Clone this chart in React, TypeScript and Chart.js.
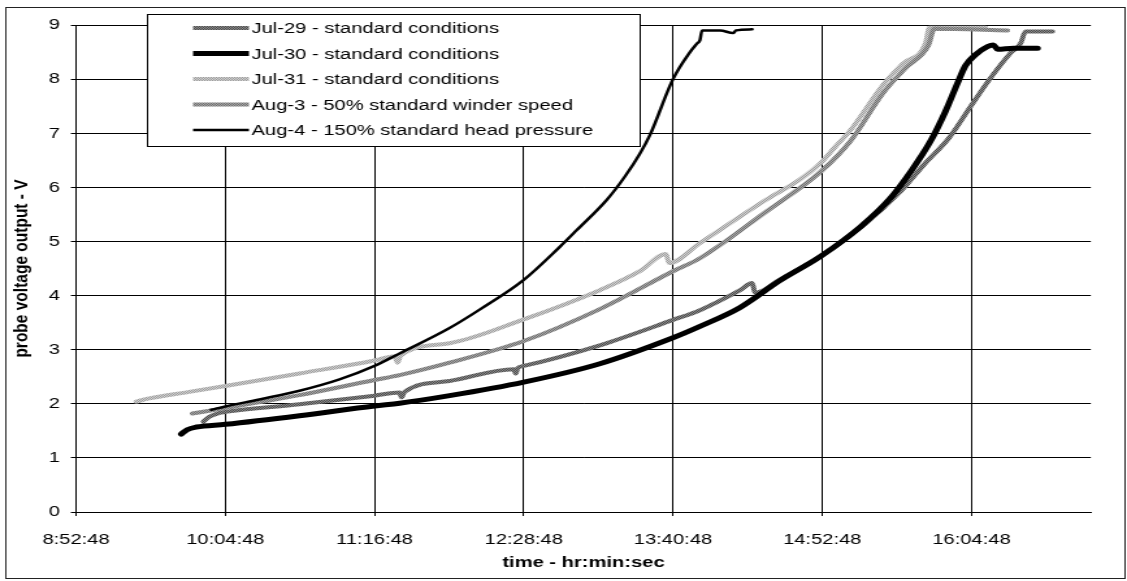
import React, { useEffect, useRef } from 'react';
import { Chart, registerables } from 'chart.js';

Chart.register(...registerables);

// ---- DATA (x = time of day in minutes after midnight, y = probe voltage V) ----
const xTickMinutes = [532.8, 604.8, 676.8, 748.8, 820.8, 892.8, 964.8];

const seriesNames = [
  'Jul-29 - standard conditions',
  'Jul-30 - standard conditions',
  'Jul-31 - standard conditions',
  'Aug-3 - 50% standard winder speed',
  'Aug-4 - 150% standard head pressure',
];

const jul29Time = [594.2, 597.1, 601.9, 604.8, 640.6, 676.8, 688.9, 689.8, 691.3, 713.0, 744.0, 744.9, 745.9, 748.8, 785.5, 820.8, 833.8, 853.2, 859.0, 860.4, 872.5, 891.8, 911.2, 930.5, 942.6, 953.7, 964.3, 974.0, 983.6, 988.5, 990.9, 1003.9];
const jul29Volt = [1.67, 1.76, 1.83, 1.85, 1.99, 2.15, 2.21, 2.12, 2.22, 2.42, 2.64, 2.56, 2.66, 2.70, 3.08, 3.55, 3.73, 4.10, 4.23, 4.05, 4.30, 4.72, 5.25, 5.92, 6.45, 6.90, 7.49, 8.02, 8.48, 8.66, 8.88, 8.88];

const jul30Time = [583.5, 586.4, 590.8, 604.8, 640.6, 676.8, 688.9, 713.0, 748.8, 785.5, 820.8, 833.8, 853.2, 872.5, 891.8, 911.2, 925.7, 935.3, 945.0, 952.2, 958.0, 961.9, 966.7, 972.5, 975.4, 977.4, 985.1, 996.7];
const jul30Volt = [1.44, 1.52, 1.57, 1.62, 1.78, 1.96, 2.01, 2.15, 2.40, 2.74, 3.22, 3.43, 3.78, 4.28, 4.72, 5.27, 5.80, 6.28, 6.85, 7.40, 7.92, 8.25, 8.45, 8.60, 8.63, 8.55, 8.57, 8.57];

const jul31Time = [561.8, 568.1, 587.4, 604.8, 640.6, 676.8, 686.5, 687.9, 689.4, 713.0, 748.8, 785.5, 804.8, 817.4, 818.9, 833.8, 865.7, 882.2, 891.8, 899.1, 906.3, 922.3, 931.9, 942.6, 944.5, 971.6];
const jul31Volt = [2.04, 2.10, 2.22, 2.33, 2.56, 2.80, 2.88, 2.76, 2.89, 3.12, 3.56, 4.10, 4.45, 4.77, 4.60, 4.97, 5.77, 6.15, 6.44, 6.75, 7.05, 7.90, 8.29, 8.66, 8.95, 8.95];

const aug3Time = [588.9, 604.8, 640.6, 676.8, 688.9, 713.0, 748.8, 785.5, 820.8, 833.8, 865.7, 891.8, 906.3, 922.3, 932.9, 944.0, 946.9, 982.2];
const aug3Volt = [1.82, 1.92, 2.16, 2.44, 2.53, 2.76, 3.16, 3.75, 4.45, 4.69, 5.55, 6.28, 6.85, 7.75, 8.20, 8.62, 8.93, 8.90];

const aug4Time = [598.0, 604.8, 621.2, 640.6, 659.9, 676.8, 688.9, 713.0, 727.5, 748.8, 766.2, 774.4, 788.9, 797.6, 804.8, 809.7, 820.8, 829.0, 832.4, 833.8, 834.8, 843.5, 849.8, 851.2, 859.0];
const aug4Volt = [1.89, 1.95, 2.08, 2.24, 2.45, 2.70, 2.93, 3.40, 3.74, 4.29, 4.90, 5.21, 5.77, 6.20, 6.62, 6.97, 8.00, 8.50, 8.66, 8.72, 8.90, 8.90, 8.85, 8.90, 8.92];

// ---- layout constants (internal canvas px; the canvas is stretched horizontally by CSS) ----
const CANVAS_W = 867;
const CANVAS_H = 581;
const FONT_FAMILY = "'Liberation Sans', Arial, Helvetica, sans-serif";
const FONT_SIZE = 15.5;

function fmtTime(v: number): string {
  const total = Math.round(v * 60);
  const h = Math.floor(total / 3600);
  const m = Math.floor((total % 3600) / 60);
  const s = total % 60;
  return `${h}:${String(m).padStart(2, '0')}:${String(s).padStart(2, '0')}`;
}

function pts(t: number[], v: number[]) {
  return t.map((x, i) => ({ x, y: v[i] }));
}

function makePattern(c1: string, c2: string): CanvasPattern | string {
  const c = document.createElement('canvas');
  c.width = 2;
  c.height = 2;
  const g = c.getContext('2d');
  if (!g) return c1;
  g.fillStyle = c1;
  g.fillRect(0, 0, 2, 2);
  g.fillStyle = c2;
  g.fillRect(0, 0, 1, 1);
  g.fillRect(1, 1, 1, 1);
  const p = g.createPattern(c, 'repeat');
  return p || c1;
}

const framePlugin = {
  id: 'frame',
  beforeDraw(chart: any) {
    const ctx = chart.ctx;
    ctx.save();
    ctx.strokeStyle = '#222';
    ctx.lineWidth = 1;
    ctx.strokeRect(4.5, 7.5, 861, 571);
    ctx.restore();
  },
};

const legendPlugin = {
  id: 'boxLegend',
  afterDraw(chart: any) {
    const ctx = chart.ctx;
    const lx = 113.5, ly = 14.5, lw = 379, lh = 132;
    ctx.save();
    ctx.fillStyle = '#fff';
    ctx.fillRect(lx, ly, lw, lh);
    ctx.strokeStyle = '#000';
    ctx.lineWidth = 1;
    ctx.strokeRect(lx, ly, lw, lh);
    chart.data.datasets.forEach((ds: any, i: number) => {
      const y = 28 + i * 25.5;
      ctx.strokeStyle = ds.borderColor;
      ctx.lineWidth = ds.borderWidth;
      ctx.lineCap = 'butt';
      ctx.beginPath();
      ctx.moveTo(148.5, y);
      ctx.lineTo(191.5, y);
      ctx.stroke();
      ctx.fillStyle = '#000';
      ctx.font = `${FONT_SIZE}px ${FONT_FAMILY}`;
      ctx.textBaseline = 'middle';
      ctx.textAlign = 'left';
      ctx.fillText(ds.label, 193.5, y + 1);
    });
    ctx.restore();
  },
};

export default function App() {
  const ref = useRef<HTMLCanvasElement | null>(null);

  useEffect(() => {
    if (!ref.current) return;
    const jul29Color = makePattern('#4a4a4a', '#8c8c8c');
    const aug3Color = makePattern('#6e6e6e', '#a8a8a8');
    const jul31Color = makePattern('#9c9c9c', '#d2d2d2');

    const font = { family: FONT_FAMILY, size: FONT_SIZE };
    const bold = { family: FONT_FAMILY, size: FONT_SIZE, weight: 'bold' as const };

    const chart = new Chart(ref.current, {
      type: 'line',
      data: {
        datasets: [
          { label: seriesNames[0], data: pts(jul29Time, jul29Volt), borderColor: jul29Color as any, borderWidth: 4, order: 5 },
          { label: seriesNames[1], data: pts(jul30Time, jul30Volt), borderColor: '#000', borderWidth: 5, order: 4 },
          { label: seriesNames[2], data: pts(jul31Time, jul31Volt), borderColor: jul31Color as any, borderWidth: 4, order: 3 },
          { label: seriesNames[3], data: pts(aug3Time, aug3Volt), borderColor: aug3Color as any, borderWidth: 4, order: 2 },
          { label: seriesNames[4], data: pts(aug4Time, aug4Volt), borderColor: '#000', borderWidth: 2.5, order: 1 },
        ],
      },
      options: {
        responsive: false,
        animation: false,
        devicePixelRatio: 1,
        parsing: false as any,
        layout: { padding: { left: 0, top: 25, right: CANVAS_W - 839.2, bottom: 0 } },
        elements: {
          point: { radius: 0, hoverRadius: 0 },
          line: { fill: false, cubicInterpolationMode: 'monotone', borderJoinStyle: 'round', borderCapStyle: 'round' },
        },
        plugins: { legend: { display: false }, tooltip: { enabled: false } },
        events: [],
        scales: {
          x: {
            type: 'linear',
            min: 532.8,
            max: 1022.4,
            afterBuildTicks: (s: any) => {
              s.ticks = xTickMinutes.map((v) => ({ value: v }));
            },
            afterFit: (s: any) => {
              s.height = 69;
            },
            ticks: {
              callback: (v: any) => fmtTime(Number(v)),
              font,
              color: '#000',
              padding: 14,
              maxRotation: 0,
              autoSkip: false,
            },
            grid: { color: '#000', lineWidth: 1, tickLength: 4 },
            border: { color: '#000', width: 1 },
            title: { display: true, text: 'time - hr:min:sec', font: bold, color: '#000', padding: { top: 0, bottom: 8.7 } },
          },
          y: {
            min: 0,
            max: 9,
            afterFit: (s: any) => {
              s.width = 58.5;
            },
            ticks: { stepSize: 1, font, color: '#000', padding: 8.3 },
            grid: { color: '#000', lineWidth: 1, tickLength: 4 },
            border: { color: '#000', width: 1 },
            title: { display: true, text: 'probe voltage output - V', font: bold, color: '#000', padding: { top: 7.7, bottom: 0 } },
          },
        },
      },
      plugins: [framePlugin, legendPlugin],
    } as any);
    return () => chart.destroy();
  }, []);

  return (
    <div style={{ position: 'absolute', left: 0, top: 0, width: 1127, height: 581, background: '#fff' }}>
      <canvas ref={ref} width={CANVAS_W} height={CANVAS_H} style={{ width: '1127px', height: '581px', display: 'block' }} />
    </div>
  );
}
